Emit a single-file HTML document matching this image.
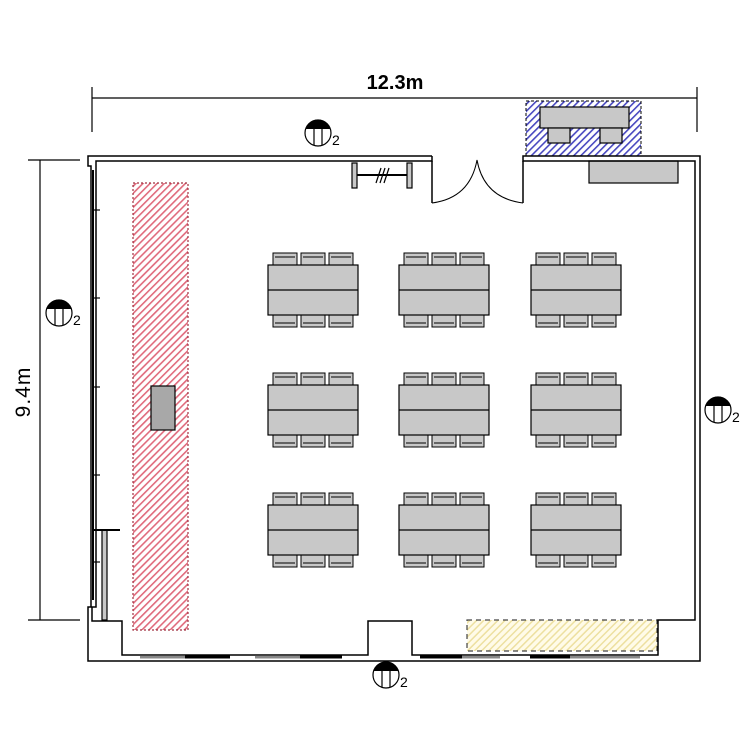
<!DOCTYPE html>
<html><head><meta charset="utf-8"><style>html,body{margin:0;padding:0;background:#fff}svg{display:block}</style></head>
<body>
<svg width="748" height="748" viewBox="0 0 748 748" xmlns="http://www.w3.org/2000/svg">
<defs>
<pattern id="red" width="5" height="5" patternUnits="userSpaceOnUse" patternTransform="rotate(45)"><rect width="5" height="5" fill="#fff"/><rect width="1.6" height="5" fill="#e06a7c"/></pattern>
<pattern id="blue" width="5" height="5" patternUnits="userSpaceOnUse" patternTransform="rotate(45)"><rect width="5" height="5" fill="#fff"/><rect width="1.6" height="5" fill="#4848c0"/></pattern>
<pattern id="yel" width="5" height="5" patternUnits="userSpaceOnUse" patternTransform="rotate(45)"><rect width="5" height="5" fill="#fffbe8"/><rect width="1.5" height="5" fill="#ede0a0"/></pattern>
<g id="sym">
<circle cx="0" cy="0" r="13" fill="#fff" stroke="#000" stroke-width="1.2"/>
<path d="M-12.5,-4 A13,13 0 0 1 12.5,-4 Z" fill="#000"/>
<line x1="-4" y1="-6" x2="-4" y2="12" stroke="#000" stroke-width="1.2"/>
<line x1="4" y1="-6" x2="4" y2="12" stroke="#000" stroke-width="1.2"/>
<text x="14" y="12" font-family="Liberation Sans, sans-serif" font-size="14">2</text>
</g>
<g id="chair">
<rect x="0" y="0" width="24" height="13" fill="#c8c8c8" stroke="#000" stroke-width="1"/>
<line x1="2" y1="4" x2="22" y2="4" stroke="#000" stroke-width="1"/>
</g>
<g id="grp">
<use href="#chair" x="5" y="-12"/><use href="#chair" x="33" y="-12"/><use href="#chair" x="61" y="-12"/>
<g transform="translate(0,50) scale(1,-1)"><use href="#chair" x="5" y="-12"/><use href="#chair" x="33" y="-12"/><use href="#chair" x="61" y="-12"/></g>
<rect x="0" y="0" width="90" height="50" fill="#c8c8c8" stroke="#000" stroke-width="1.2"/>
<line x1="0" y1="25" x2="90" y2="25" stroke="#000" stroke-width="1.2"/>
</g>
</defs>

<g stroke="#000" stroke-width="1.2">
<line x1="92" y1="98" x2="697" y2="98"/>
<line x1="92" y1="87" x2="92" y2="132"/>
<line x1="697" y1="87" x2="697" y2="132"/>
<line x1="40" y1="160" x2="40" y2="620"/>
<line x1="28" y1="160" x2="80" y2="160"/>
<line x1="28" y1="620" x2="80" y2="620"/>
</g>
<text x="395" y="89" text-anchor="middle" font-family="Liberation Sans, sans-serif" font-size="20" font-weight="bold">12.3m</text>
<text transform="translate(30,392) rotate(-90)" text-anchor="middle" font-family="Liberation Sans, sans-serif" font-size="21" letter-spacing="1">9.4m</text>

<rect x="133" y="183" width="55" height="447" fill="url(#red)" stroke="#a03040" stroke-width="1.2" stroke-dasharray="2,2"/>
<rect x="151" y="386" width="24" height="44" fill="#a8a8a8" stroke="#000" stroke-width="1.2"/>
<rect x="526" y="101" width="115" height="55" fill="url(#blue)" stroke="#000" stroke-width="1" stroke-dasharray="3,2"/>
<rect x="467" y="620" width="190" height="31" fill="url(#yel)" stroke="#444" stroke-width="1.2" stroke-dasharray="5,4"/>
<rect x="540" y="107" width="89" height="21" fill="#c8c8c8" stroke="#000" stroke-width="1.2"/>
<rect x="548" y="128" width="22" height="15" fill="#c8c8c8" stroke="#000" stroke-width="1.2"/>
<rect x="600" y="128" width="22" height="15" fill="#c8c8c8" stroke="#000" stroke-width="1.2"/>
<rect x="589" y="161" width="89" height="22" fill="#c8c8c8" stroke="#000" stroke-width="1.2"/>

<g fill="none" stroke="#000" stroke-width="1.5">
<polyline points="432,156 88,156 88,166 91,166 91,607 88,607 88,661 140,661"/>
<polyline points="432,156 432,161 96,161 96,607 92,607 92,621 122,621 122,655 368,655 368,621 412,621 412,655 658,655 658,620 695,620 695,161 523,161 523,156 700,156 700,661 140,661"/>
<line x1="432" y1="161" x2="432" y2="203"/>
<line x1="523" y1="161" x2="523" y2="203"/>
<path d="M432,203 Q470,198 477,160 Q484,198 523,203" stroke-width="1"/>
</g>
<g stroke-width="3" stroke="#000">
<line x1="140" y1="657" x2="185" y2="657" stroke="#888"/>
<line x1="185" y1="657" x2="230" y2="657"/>
<line x1="255" y1="657" x2="300" y2="657" stroke="#888"/>
<line x1="300" y1="657" x2="342" y2="657"/>
<line x1="420" y1="657" x2="462" y2="657"/>
<line x1="462" y1="657" x2="500" y2="657" stroke="#888"/>
<line x1="530" y1="657" x2="570" y2="657"/>
<line x1="570" y1="657" x2="640" y2="657" stroke="#888"/>
<line x1="93" y1="170" x2="93" y2="600" stroke-width="2"/>
</g>
<g stroke="#000" stroke-width="1.2">
<rect x="102" y="530" width="5" height="90" fill="#c8c8c8"/>
<line x1="92" y1="530" x2="120" y2="530" stroke-width="2"/>
<line x1="93" y1="210" x2="100" y2="210"/><line x1="93" y1="298" x2="100" y2="298"/>
<line x1="93" y1="387" x2="100" y2="387"/><line x1="93" y1="475" x2="100" y2="475"/>
<line x1="93" y1="562" x2="100" y2="562"/>
</g>

<g stroke="#000" stroke-width="1.2">
<rect x="352" y="163" width="5" height="25" fill="#c8c8c8"/>
<rect x="407" y="163" width="5" height="25" fill="#c8c8c8"/>
<line x1="357" y1="175" x2="407" y2="175" stroke-width="2"/>
<line x1="376" y1="183" x2="381" y2="168"/><line x1="380" y1="183" x2="385" y2="168"/><line x1="384" y1="183" x2="389" y2="168"/>
</g>

<use href="#grp" x="268" y="265"/><use href="#grp" x="399" y="265"/><use href="#grp" x="531" y="265"/>
<use href="#grp" x="268" y="385"/><use href="#grp" x="399" y="385"/><use href="#grp" x="531" y="385"/>
<use href="#grp" x="268" y="505"/><use href="#grp" x="399" y="505"/><use href="#grp" x="531" y="505"/>

<use href="#sym" x="318" y="133"/>
<use href="#sym" x="59" y="313"/>
<use href="#sym" x="718" y="410"/>
<use href="#sym" x="386" y="675"/>
</svg>
</body></html>
